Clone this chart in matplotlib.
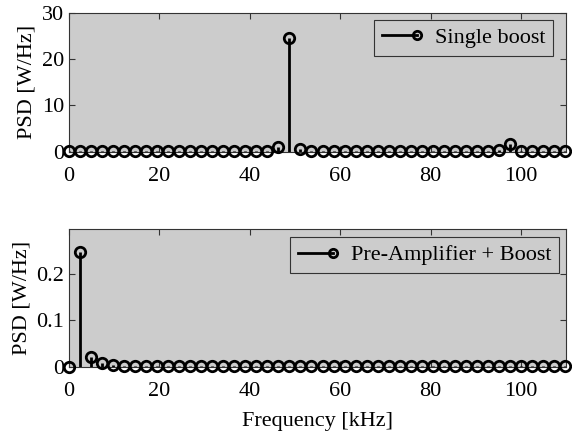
import numpy as np
import matplotlib
matplotlib.use('Agg')
import matplotlib.pyplot as plt
from matplotlib.lines import Line2D
from matplotlib.legend_handler import HandlerBase

plt.rcParams['font.family'] = 'serif'
plt.rcParams['font.serif'] = ['Liberation Serif', 'DejaVu Serif']
plt.rcParams['font.size'] = 16

# frequency bins (kHz)
df = 2.44
freq = np.arange(46) * df

# single boost PSD [W/Hz]
psd_single = [0.05, 0.05, 0.05, 0.05, 0.05, 0.05, 0.05, 0.05, 0.05, 0.05,
              0.05, 0.05, 0.05, 0.05, 0.05, 0.05, 0.05, 0.05, 0.1, 1.0,
              24.6, 0.5, 0.05, 0.05, 0.05, 0.05, 0.05, 0.05, 0.05, 0.05,
              0.05, 0.05, 0.05, 0.05, 0.05, 0.05, 0.05, 0.05, 0.05, 0.3,
              1.6, 0.05, 0.05, 0.05, 0.05, 0.05]

# pre-amplifier + boost PSD [W/Hz]
psd_pre = [0.0, 0.246, 0.0215, 0.0086, 0.0037, 0.0015] + [0.001] * 40

MS = 7.5
MEW = 2.0
LW = 2.0


class HandlerEndMarker(HandlerBase):
    # line with the marker on its right end, like a MATLAB stem legend
    def create_artists(self, legend, orig_handle, xdescent, ydescent,
                       width, height, fontsize, trans):
        y = (height - ydescent) / 2
        line = Line2D([-xdescent, -xdescent + width], [y, y], color='k', lw=LW)
        mark = Line2D([-xdescent + width], [y], ls='none', marker='o',
                      markerfacecolor='none', markeredgecolor='k',
                      markeredgewidth=MEW, markersize=MS - 1.5)
        line.set_transform(trans)
        mark.set_transform(trans)
        return [line, mark]


def stem_panel(ax, x, y, ylim, yticks, label, anchor):
    ax.set_facecolor('#cccccc')
    ml, sl, bl = ax.stem(x, y, linefmt='k-', markerfmt='ko', basefmt=' ')
    ml.set_markerfacecolor('none')
    ml.set_markeredgewidth(MEW)
    ml.set_markersize(MS)
    ml.set_clip_on(False)
    ml.set_zorder(5)
    sl.set_linewidth(LW)
    ax.set_xlim(0, 110)
    ax.set_ylim(*ylim)
    ax.set_xticks([0, 20, 40, 60, 80, 100])
    ax.set_yticks(yticks)
    ax.set_yticklabels([('%g' % t) for t in yticks])
    ax.tick_params(direction='in', top=True, right=True, length=4,
                   labelsize=16, color='#333333')
    ax.tick_params(axis='x', pad=11)
    ax.tick_params(axis='y', pad=3)
    for s in ax.spines.values():
        s.set_color('#333333')
        s.set_linewidth(0.8)
    ax.set_ylabel('PSD [W/Hz]', fontsize=16, labelpad=4)
    h = Line2D([], [])
    leg = ax.legend([h], [label], loc='upper right', bbox_to_anchor=anchor,
                    fontsize=16, handler_map={h: HandlerEndMarker()},
                    fancybox=False, framealpha=1, facecolor='#cccccc',
                    edgecolor='#333333', borderaxespad=0, handlelength=1.6,
                    borderpad=0.35, handletextpad=0.8)
    leg.get_frame().set_linewidth(0.8)


fig = plt.figure(figsize=(5.72, 4.38), dpi=100)
ax1 = fig.add_axes([0.120, 0.654, 0.870, 0.316])
ax2 = fig.add_axes([0.120, 0.163, 0.870, 0.314])

stem_panel(ax1, freq, psd_single, (0, 30), [0, 10, 20, 30], 'Single boost',
           (0.974, 0.951))
stem_panel(ax2, freq, psd_pre, (0, 0.296), [0, 0.1, 0.2],
           'Pre-Amplifier + Boost', (0.986, 0.942))
ax2.set_xlabel('Frequency [kHz]', fontsize=16, labelpad=8)

fig.savefig('out.png', dpi=100)
